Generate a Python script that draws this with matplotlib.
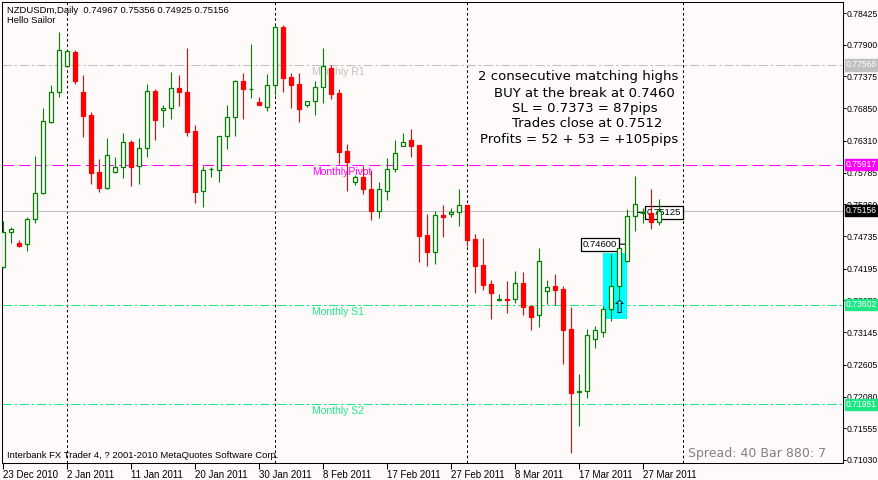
import matplotlib
matplotlib.use("Agg")
import matplotlib.pyplot as plt
import numpy as np
import pandas as pd
from matplotlib.patches import Rectangle

plt.rcParams["font.family"] = ["Liberation Sans", "DejaVu Sans"]

symbol = "NZDUSDm,Daily"
first_day = "2010-12-23"

opens = [0.74223, 0.74797, 0.74625, 0.74598, 0.75009, 0.75447, 0.76627, 0.77113, 0.77543, 0.77785,
         0.77113, 0.76738, 0.75790, 0.75535, 0.75790, 0.75872, 0.76286, 0.75894, 0.76187, 0.77135,
         0.76825, 0.76848, 0.77179, 0.77113, 0.76473, 0.75485, 0.75839, 0.75833, 0.76395, 0.76700,
         0.77300, 0.77168, 0.76953, 0.76875, 0.77229, 0.78188, 0.77361, 0.77250, 0.76898, 0.76964,
         0.77206, 0.77520, 0.77101, 0.76142, 0.75624, 0.75712, 0.75508, 0.75154, 0.75485, 0.75839,
         0.76230, 0.76319, 0.76236, 0.74747, 0.74466, 0.75083, 0.75095, 0.75138, 0.75249, 0.74686,
         0.74256, 0.73942, 0.73684, 0.73689, 0.73689, 0.73953, 0.73583, 0.73424, 0.73821, 0.73909,
         0.73859, 0.73197, 0.72155, 0.72166, 0.73027, 0.73152, 0.73523, 0.73904, 0.74317, 0.75062,
         0.75116, 0.75121, 0.74967]
highs = [0.74984, 0.74880, 0.74670, 0.75055, 0.76054, 0.76853, 0.77234, 0.78111, 0.77805, 0.77813,
         0.77399, 0.76787, 0.76005, 0.76352, 0.76043, 0.76440, 0.76324, 0.76352, 0.77255, 0.77163,
         0.76908, 0.77449, 0.77394, 0.77841, 0.76567, 0.75899, 0.75877, 0.76324, 0.76903, 0.77317,
         0.77437, 0.77917, 0.77030, 0.77416, 0.78222, 0.78227, 0.77427, 0.77437, 0.76974, 0.77300,
         0.77841, 0.77565, 0.77163, 0.76258, 0.75745, 0.75899, 0.75828, 0.75624, 0.76021, 0.76324,
         0.76435, 0.76506, 0.76240, 0.75100, 0.75144, 0.75249, 0.75194, 0.75513, 0.75255, 0.74769,
         0.74703, 0.74008, 0.73776, 0.73991, 0.74152, 0.74140, 0.73585, 0.74532, 0.74003, 0.74107,
         0.73913, 0.73561, 0.72453, 0.73202, 0.73247, 0.73585, 0.74438, 0.74459, 0.75177, 0.75728,
         0.75194, 0.75508, 0.75356]
lows = [0.74206, 0.74625, 0.74559, 0.74493, 0.74946, 0.75431, 0.76610, 0.77040, 0.77540, 0.77245,
        0.76379, 0.75591, 0.75469, 0.75518, 0.75786, 0.75690, 0.75568, 0.75601, 0.76048, 0.76324,
        0.76544, 0.76671, 0.76886, 0.76395, 0.75287, 0.75220, 0.75717, 0.75634, 0.76180, 0.76395,
        0.76676, 0.77024, 0.76900, 0.76809, 0.77068, 0.77123, 0.76853, 0.76627, 0.76875, 0.76738,
        0.76931, 0.76997, 0.75927, 0.75485, 0.75579, 0.75426, 0.75000, 0.75029, 0.75331, 0.75800,
        0.76225, 0.76038, 0.74301, 0.74244, 0.74268, 0.74724, 0.75055, 0.74906, 0.74575, 0.73798,
        0.73842, 0.73363, 0.73665, 0.73467, 0.73632, 0.73429, 0.73181, 0.73235, 0.73611, 0.73594,
        0.72618, 0.71151, 0.71597, 0.72056, 0.72888, 0.73060, 0.73330, 0.73693, 0.74310, 0.74823,
        0.74956, 0.74852, 0.74925]
closes = [0.74802, 0.74847, 0.74575, 0.75017, 0.75447, 0.76638, 0.77113, 0.77808, 0.77791, 0.77305,
          0.76726, 0.75783, 0.75535, 0.76071, 0.75872, 0.76286, 0.75872, 0.76187, 0.77130, 0.76660,
          0.76858, 0.77179, 0.77113, 0.76461, 0.75469, 0.75823, 0.75844, 0.76385, 0.76700, 0.77300,
          0.77163, 0.77173, 0.76910, 0.77229, 0.78188, 0.77355, 0.77239, 0.76832, 0.76964, 0.77206,
          0.77553, 0.77090, 0.76130, 0.75955, 0.75712, 0.75508, 0.75154, 0.75508, 0.75839, 0.76104,
          0.76296, 0.76230, 0.74741, 0.74476, 0.75078, 0.75055, 0.75138, 0.75244, 0.74670, 0.74239,
          0.73925, 0.73798, 0.73689, 0.73684, 0.73953, 0.73566, 0.73401, 0.74317, 0.73897, 0.73847,
          0.73181, 0.72143, 0.72166, 0.73093, 0.73181, 0.73523, 0.73904, 0.74537, 0.75062, 0.75265,
          0.75128, 0.74962, 0.75156]

price_ticks = [0.78425, 0.77900, 0.77375, 0.76850, 0.76310, 0.75785, 0.75260, 0.74735,
               0.74195, 0.73670, 0.73145, 0.72605, 0.72080, 0.71555, 0.71030]

level_names = ["Monthly R1", "MonthlyPivot", "Monthly S1", "Monthly S2"]
level_prices = [0.77568, 0.75917, 0.73602, 0.71951]
bid = 0.75156

# trade markup
setup_bars = [75, 78]
setup_prices = [0.73368, 0.74454]
entry_bar = 77
buy_break = 0.74600
close_bar = 79
trade_close = 0.75125

note_lines = ["2 consecutive matching highs",
              "BUY at the break at 0.7460",
              "SL = 0.7373 = 87pips",
              "Trades close at 0.7512",
              "Profits = 52 + 53 = +105pips"]

snow = "#fffafa"
green = "#008000"
red = "#ff0000"
silver = "#c0c0c0"
magenta = "#ff00ff"
spring = "#1ee886"

W, H = 879, 480


def px(x, y):
    return x / W, 1 - y / H


fig = plt.figure(figsize=(W / 100, H / 100), dpi=100, facecolor=snow)
ax = fig.add_axes([2 / W, 17 / H, 841 / W, 461 / H], facecolor=snow)

o = np.array(opens)
h = np.array(highs)
l = np.array(lows)
c = np.array(closes)
x = np.arange(len(o))
up = c >= o

# extra (empty) bars on the right as in the terminal's chart shift
n_slots = 106
dates = pd.bdate_range(first_day, periods=n_slots, freq="C", weekmask="Sun Mon Tue Wed Thu Fri")

# monthly separators
for i in range(1, n_slots):
    if dates[i].month != dates[i - 1].month:
        ax.axvline(i, color="black", lw=0.75, dashes=(2.5, 2.5), zorder=1)

# levels
styles = [(silver, (9, 2.5, 2.5, 2.5)), (magenta, (11, 5)), (spring, (9, 2.5, 2.5, 2.5)), (spring, (9, 2.5, 2.5, 2.5))]
for name, price, (col, dash) in zip(level_names, level_prices, styles):
    ax.axhline(price, color=col, lw=0.75, dashes=dash, zorder=1)
    ax.annotate(name, xy=(38.6, price), xytext=(0, -7), textcoords="offset pixels",
                ha="left", va="center", color=col, fontsize=7.5, zorder=2)
ax.axhline(bid, color=silver, lw=0.75, zorder=1)

ax.add_patch(Rectangle((setup_bars[0], setup_prices[0]), setup_bars[1] - setup_bars[0],
                       setup_prices[1] - setup_prices[0], facecolor="#00ffff", edgecolor="none", zorder=1))

# price labels on the chart
box = dict(boxstyle="square,pad=0.2", fc="white", ec="black", lw=0.9)
ax.annotate(f"{buy_break:.5f}", xy=(setup_bars[1], buy_break), xytext=(-10, 0), textcoords="offset pixels",
            ha="right", va="center", fontsize=6.8, bbox=box,
            arrowprops=dict(arrowstyle="-", color="black", lw=0.8, shrinkA=0, shrinkB=0), zorder=2)
ax.annotate(f"{trade_close:.5f}", xy=(close_bar, trade_close), xytext=(12, 0), textcoords="offset pixels",
            ha="left", va="center", fontsize=6.8, bbox=box,
            arrowprops=dict(arrowstyle="-", color="black", lw=0.8, shrinkA=0, shrinkB=0), zorder=2)

# candles
ax.vlines(x[up], l[up], h[up], color=green, lw=0.8, zorder=3)
ax.vlines(x[~up], l[~up], h[~up], color=red, lw=0.8, zorder=3)
body_low = np.minimum(o, c)
body_h = np.abs(c - o)
ax.bar(x[up], body_h[up], 0.55, body_low[up], facecolor=snow, edgecolor=green, linewidth=0.9, zorder=4)
ax.bar(x[~up], body_h[~up], 0.55, body_low[~up], facecolor=red, edgecolor=red, linewidth=0.9, zorder=4)

ax.text(entry_bar, lows[entry_bar], "\u21e7", family="DejaVu Sans", fontsize=13,
        ha="center", va="top", zorder=6)

ax.set_xlim(-0.125, 105)
ax.set_ylim(0.70980, 0.78607)

tick_idx = list(range(0, 81, 8))
ax.set_xticks(tick_idx)
ax.set_xticklabels([f"{dates[i].day} {dates[i]:%b %Y}" for i in tick_idx])
for lbl in ax.get_xticklabels():
    lbl.set_ha("left")
ax.tick_params(axis="x", direction="out", length=4, width=0.75, pad=1, labelsize=7)

ax.yaxis.tick_right()
ax.set_yticks(price_ticks)
ax.set_yticklabels([f"{p:.5f}" for p in price_ticks])
ax.tick_params(axis="y", direction="out", length=2, width=0.75, pad=0.3, labelsize=6.2)

for s in ax.spines.values():
    s.set_color("black")
    s.set_linewidth(0.75)

# price tags on the scale
tag_prices = level_prices[:2] + [bid] + level_prices[2:]
tag_colors = [silver, magenta, "black", spring, spring]
for price, col in zip(tag_prices, tag_colors):
    ax.annotate(f"{price:.5f}", xy=(1, price), xycoords=ax.get_yaxis_transform(), xytext=(3, 0),
                textcoords="offset pixels", ha="left", va="center", color="white", fontsize=6.2,
                bbox=dict(boxstyle="square,pad=0.15", fc=col, ec=col), annotation_clip=False, zorder=10)

fig.text(*px(7, 10.7), f"{symbol}  {opens[-1]:.5f} {highs[-1]:.5f} {lows[-1]:.5f} {closes[-1]:.5f}",
         fontsize=6.8, va="center")
fig.text(*px(7, 20.7), "Hello Sailor", fontsize=6.8, va="center")
fig.text(*px(7, 455), "Interbank FX Trader 4, ? 2001-2010 MetaQuotes Software Corp.", fontsize=6.8, va="center")
fig.text(*px(688, 453), "Spread: 40 Bar 880: 7", family="DejaVu Sans", fontsize=9, color="#808080", va="center")

note_x = [578.3, 584.5, 585, 587, 578.7]
note_y = [76.7, 93.3, 108.3, 123.3, 139.3]
for txt, nx, ny in zip(note_lines, note_x, note_y):
    fig.text(*px(nx, ny), txt, family="DejaVu Sans", fontsize=9.5, ha="center", va="center")

fig.savefig("out.png", dpi=100, facecolor=snow)
